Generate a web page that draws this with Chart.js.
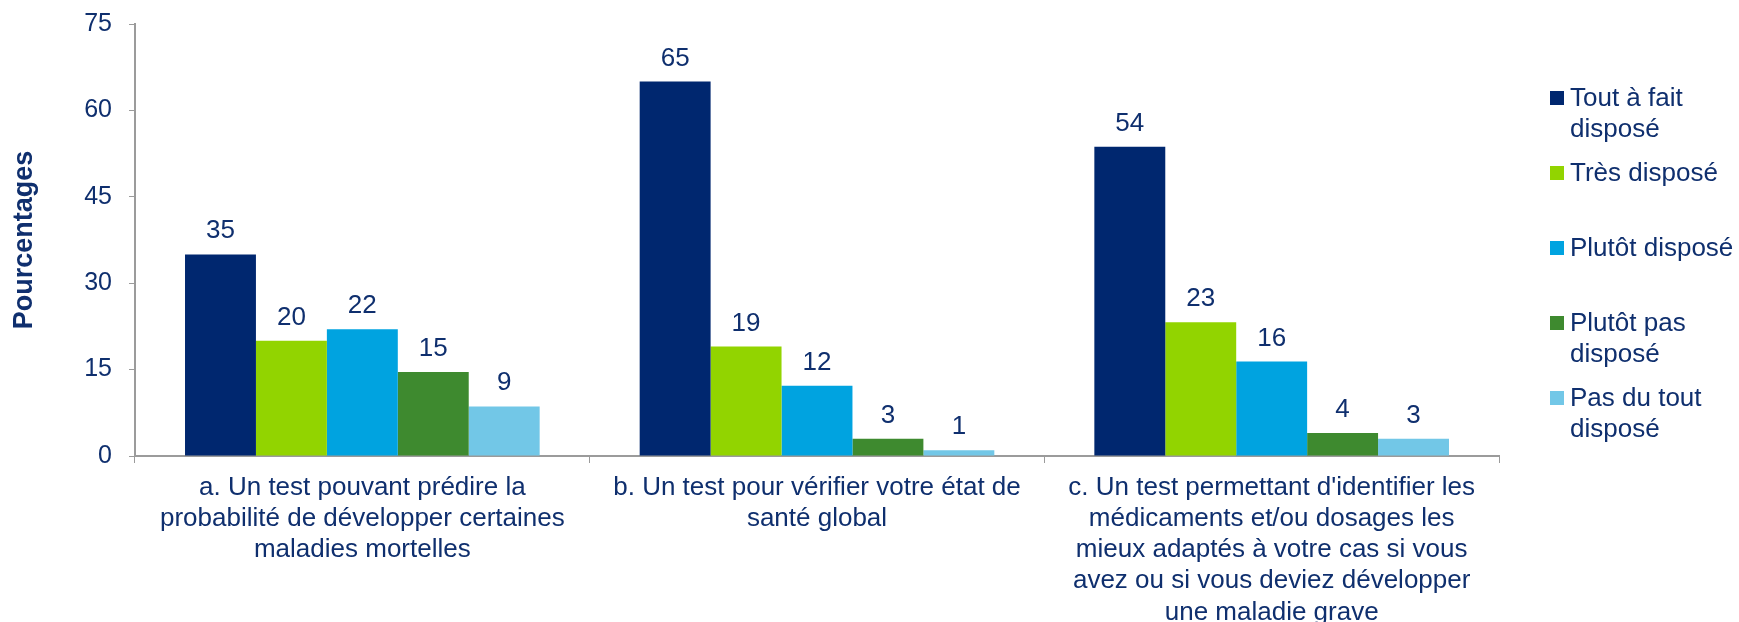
<!DOCTYPE html>
<html>
<head>
<meta charset="utf-8">
<script src="https://cdn.jsdelivr.net/npm/chart.js@4/dist/chart.umd.min.js"></script>
<style>
  html, body { margin: 0; padding: 0; background: #fff; }
  #wrap { width: 1739px; height: 622px; position: relative; }
</style>
</head>
<body>
<div id="wrap"><canvas id="chart" width="1739" height="622"></canvas></div>
<script>
// Categories (multi-line labels, as wrapped in the picture)
const categories = [
    ['a. Un test pouvant prédire la', 'probabilité de développer certaines', 'maladies mortelles'],
    ['b. Un test pour vérifier votre état de', 'santé global'],
    ['c. Un test permettant d\'identifier les', 'médicaments et/ou dosages les', 'mieux adaptés à votre cas si vous', 'avez ou si vous deviez développer', 'une maladie grave']
];

// Series
const seriesNames = ['Tout à fait disposé', 'Très disposé', 'Plutôt disposé', 'Plutôt pas disposé', 'Pas du tout disposé'];
const legendLines = [['Tout à fait', 'disposé'], ['Très disposé'], ['Plutôt disposé'], ['Plutôt pas', 'disposé'], ['Pas du tout', 'disposé']];
const toutAFait  = [35, 65, 53.7];
const tresDispo  = [20, 19, 23.2];
const plutotDispo = [22, 12.2, 16.4];
const plutotPas  = [14.6, 3, 4];
const pasDuTout  = [8.6, 1, 3];

const yTicks = [0, 15, 30, 45, 60, 75];

const colors = ['#00276f', '#92d400', '#00a3e0', '#3e8a2f', '#72c7e7'];
const textColor = '#0f2f6e';
const axisColor = '#9b9b9b';
const font = 'Arial, "Liberation Sans", sans-serif';

const seriesData = [toutAFait, tresDispo, plutotDispo, plutotPas, pasDuTout];

// Value labels above each bar
const valueLabels = {
    id: 'valueLabels',
    afterDatasetsDraw(chart) {
        const ctx = chart.ctx;
        ctx.save();
        ctx.font = '26px ' + font;
        ctx.fillStyle = textColor;
        ctx.textAlign = 'center';
        ctx.textBaseline = 'alphabetic';
        chart.data.datasets.forEach((ds, i) => {
            chart.getDatasetMeta(i).data.forEach((bar, j) => {
                ctx.fillText(String(Math.round(ds.data[j])), bar.x, bar.y - 16);
            });
        });
        ctx.restore();
    }
};

// Legend on the right with wrapped labels
const sideLegend = {
    id: 'sideLegend',
    afterDraw(chart) {
        const ctx = chart.ctx;
        const x = chart.chartArea.right + 51;
        let y = 98;
        ctx.save();
        ctx.font = '26px ' + font;
        ctx.textBaseline = 'middle';
        ctx.textAlign = 'left';
        legendLines.forEach((lines, i) => {
            ctx.fillStyle = colors[i];
            ctx.fillRect(x, y - 7, 14, 14);
            ctx.fillStyle = textColor;
            lines.forEach((line, k) => {
                ctx.fillText(line, x + 20, y + 1 + k * 31);
            });
            y += 75;
        });
        ctx.restore();
    }
};

new Chart(document.getElementById('chart'), {
    type: 'bar',
    data: {
        labels: categories,
        datasets: seriesNames.map((name, i) => ({
            label: name,
            data: seriesData[i],
            backgroundColor: colors[i],
            categoryPercentage: 0.78,
            barPercentage: 1.0
        }))
    },
    options: {
        responsive: false,
        animation: false,
        layout: {
            padding: { top: 24, right: 240, bottom: 0, left: 0 }
        },
        plugins: {
            legend: { display: false },
            tooltip: { enabled: false }
        },
        scales: {
            x: {
                grid: {
                    drawOnChartArea: false,
                    drawTicks: true,
                    tickLength: 7,
                    color: axisColor,
                    offset: true
                },
                border: { color: axisColor, width: 2 },
                ticks: {
                    color: textColor,
                    font: { family: font, size: 26, lineHeight: 1.2 },
                    maxRotation: 0,
                    autoSkip: false,
                    padding: 9
                },
                afterFit(scale) {
                    scale.height = 166;
                    scale.paddingLeft = 0;
                    scale.paddingRight = 0;
                }
            },
            y: {
                min: 0,
                max: 75,
                afterBuildTicks(scale) {
                    scale.ticks = yTicks.map(v => ({ value: v }));
                },
                grid: {
                    drawOnChartArea: false,
                    drawTicks: true,
                    tickLength: 6,
                    color: axisColor
                },
                border: { color: axisColor, width: 2 },
                ticks: {
                    color: textColor,
                    font: { family: font, size: 25 },
                    padding: 17
                },
                title: {
                    display: true,
                    text: 'Pourcentages',
                    color: textColor,
                    font: { family: font, size: 27, weight: 'bold' },
                    padding: { top: 8, bottom: 20 }
                },
                afterFit(scale) {
                    scale.width = 135;
                    scale.paddingTop = 0;
                    scale.paddingBottom = 0;
                }
            }
        }
    },
    plugins: [valueLabels, sideLegend]
});
</script>
</body>
</html>
